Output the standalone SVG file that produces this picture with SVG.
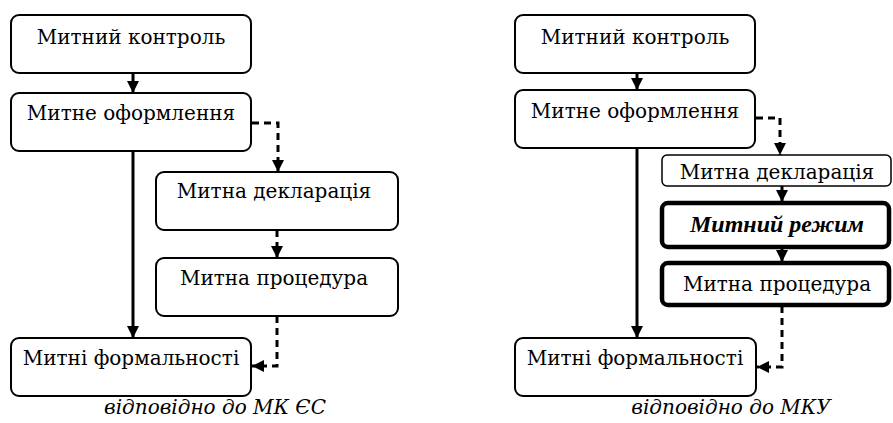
<svg xmlns="http://www.w3.org/2000/svg" width="893" height="423" viewBox="0 0 893 423">
<style>
.box{fill:#fff;stroke:#000;stroke-width:2}
.thin{fill:#fff;stroke:#000;stroke-width:1.5}
.thick{fill:#fff;stroke:#000;stroke-width:4.5}
.sol{fill:none;stroke:#000;stroke-width:3}
.dash{fill:none;stroke:#000;stroke-width:3;stroke-dasharray:7 5}
</style>
<defs>
<marker id="ah" viewBox="0 0 12 12" refX="12" refY="6" markerWidth="12" markerHeight="12" markerUnits="userSpaceOnUse" orient="auto">
<path d="M0,0 L12,6 L0,12 Z" fill="#000"/>
</marker>
</defs>
<g id="connectors">
<path class="sol" d="M133,73 V93" marker-end="url(#ah)"/>
<path class="sol" d="M133,151 V338" marker-end="url(#ah)"/>
<path class="dash" d="M252,123 H278 V172" marker-end="url(#ah)"/>
<path class="dash" d="M277,230 V258" marker-end="url(#ah)"/>
<path class="dash" d="M277,316 V366 H252" marker-end="url(#ah)"/>
<path class="sol" d="M637,73 V90" marker-end="url(#ah)"/>
<path class="sol" d="M637,148 V338" marker-end="url(#ah)"/>
<path class="dash" d="M756,118 H780 V155" marker-end="url(#ah)"/>
<path class="sol" d="M782,186 V202" marker-end="url(#ah)"/>
<path class="sol" d="M782,247 V262" marker-end="url(#ah)"/>
<path class="dash" d="M782,306 V367 H757" marker-end="url(#ah)"/>
</g>
<g id="l-kontrol"><rect class="box" x="11" y="15" width="240" height="58" rx="8"/><text x="131" y="44" font-family="DejaVu Serif" font-size="20" text-anchor="middle">Митний контроль</text></g>
<g id="l-oform"><rect class="box" x="11" y="93" width="240" height="58" rx="8"/><text x="131" y="120" font-family="DejaVu Serif" font-size="20" text-anchor="middle">Митне оформлення</text></g>
<g id="l-decl"><rect class="box" x="156" y="172" width="242" height="58" rx="8"/><text x="274" y="198" font-family="DejaVu Serif" font-size="20" text-anchor="middle">Митна декларація</text></g>
<g id="l-proc"><rect class="box" x="156" y="258" width="242" height="58" rx="8"/><text x="274" y="285" font-family="DejaVu Serif" font-size="20" text-anchor="middle">Митна процедура</text></g>
<g id="l-form"><rect class="box" x="11" y="338" width="240" height="58" rx="8"/><text x="131" y="365" font-family="DejaVu Serif" font-size="20" text-anchor="middle">Митні формальності</text></g>
<text x="215" y="414" font-family="DejaVu Serif" font-size="20" font-style="italic" text-anchor="middle">відповідно до МК ЄС</text>
<g id="r-kontrol"><rect class="box" x="515" y="15" width="240" height="58" rx="8"/><text x="635" y="44" font-family="DejaVu Serif" font-size="20" text-anchor="middle">Митний контроль</text></g>
<g id="r-oform"><rect class="box" x="515" y="90" width="240" height="58" rx="8"/><text x="635" y="118" font-family="DejaVu Serif" font-size="20" text-anchor="middle">Митне оформлення</text></g>
<g id="r-decl"><rect class="thin" x="662" y="155" width="229" height="31" rx="5"/><text x="777" y="179" font-family="DejaVu Serif" font-size="20" text-anchor="middle">Митна декларація</text></g>
<g id="r-rezhym"><rect class="thick" x="662" y="203" width="227" height="44" rx="6"/><text x="777" y="232" font-family="Liberation Serif" font-size="24" font-weight="bold" font-style="italic" text-anchor="middle">Митний режим</text></g>
<g id="r-proc"><rect class="thick" x="662" y="263" width="227" height="42" rx="6"/><text x="777" y="291" font-family="DejaVu Serif" font-size="20" text-anchor="middle">Митна процедура</text></g>
<g id="r-form"><rect class="box" x="515" y="338" width="241" height="58" rx="8"/><text x="635" y="365" font-family="DejaVu Serif" font-size="20" text-anchor="middle">Митні формальності</text></g>
<text x="731" y="414" font-family="DejaVu Serif" font-size="20" font-style="italic" text-anchor="middle">відповідно до МКУ</text>
</svg>
